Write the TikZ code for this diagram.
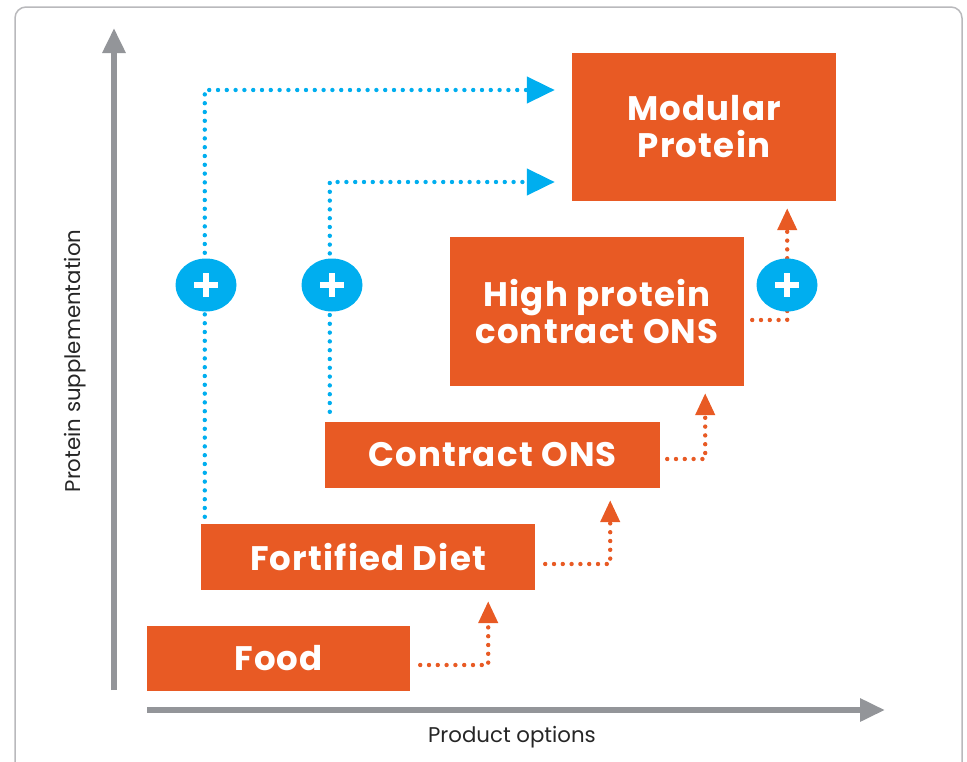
\documentclass[tikz,border=0pt]{standalone}
\usepackage{fontspec}
\setmainfont{Poppins}
\newfontfamily\boxfont[LetterSpace=3.5]{Poppins}
\usetikzlibrary{arrows.meta,shapes.geometric}
\definecolor{borange}{RGB}{232,90,36}
\definecolor{bblue}{RGB}{0,174,239}
\definecolor{axgray}{RGB}{147,149,153}
\definecolor{framegray}{RGB}{185,185,188}
\tikzset{
  box/.style={fill=borange, draw=none, text=white, inner sep=0pt, align=center,
    font=\boxfont\fontsize{34}{37}\selectfont\bfseries},
  odot/.style={draw=borange, line width=4.4pt, line cap=round, dash pattern=on 0pt off 8.8pt,
    -{Triangle[length=22pt,width=19pt,fill=borange]}},
  bdot/.style={draw=bblue, line width=4.4pt, line cap=round, dash pattern=on 0pt off 8.8pt,
    -{Triangle[length=28pt,width=26pt,fill=bblue]}},
  plusc/.style={ellipse, fill=bblue, minimum width=61pt, minimum height=53pt, inner sep=0pt,
    path picture={
      \fill[white] ([xshift=-12pt,yshift=-3.2pt]path picture bounding box.center) rectangle ([xshift=12pt,yshift=3.2pt]path picture bounding box.center);
      \fill[white] ([xshift=-3.2pt,yshift=-12pt]path picture bounding box.center) rectangle ([xshift=3.2pt,yshift=12pt]path picture bounding box.center);
    }},
  axis/.style={draw=axgray, line width=6pt, -{Triangle[length=25pt,width=22pt,fill=axgray]}},
  axlabel/.style={font=\fontsize{21.3}{25}\selectfont, text=black!85, inner sep=0pt}
}
\begin{document}
\begin{tikzpicture}[x=1pt,y=-1pt]
\useasboundingbox (0,0) rectangle (967,761);
\begin{scope}
\clip (0,0) rectangle (967,761);
\draw[framegray, line width=1.5pt, rounded corners=11pt] (15,7) rectangle (962,790);
\end{scope}
% axes
\coordinate (yb) at (114,690);
\coordinate (yt) at (114,28);
\coordinate (xl) at (147,710);
\coordinate (xr) at (885,710);
\draw[axis] (yb) -- (yt);
\draw[axis] (xl) -- (xr);
\node[axlabel, rotate=90] (ylab) at (75,361) {Protein supplementation};
\node[axlabel] (xlab) at (512,737) {Product options};
% boxes
\node[box, minimum width=263pt, minimum height=65pt] (food) at (278.5,658.5) {Food};
\node[box, minimum width=334pt, minimum height=66pt] (fort) at (368,557) {Fortified Diet};
\node[box, minimum width=335pt, minimum height=66pt] (cons) at (492.5,455) {Contract ONS};
\node[box, minimum width=294pt, minimum height=149pt] (high) at (597,311.5) {High protein\\contract ONS};
\node[box, minimum width=264pt, minimum height=148pt] (mod) at (704,127) {Modular\\Protein};
% orange connectors
\draw[odot] ([xshift=10pt,yshift=-6.5pt]food.east) -| ([xshift=-47pt,yshift=-11pt]fort.south east);
\draw[odot] ([xshift=10pt,yshift=-7pt]fort.east) -| ([xshift=-50pt,yshift=-12pt]cons.south east);
\draw[odot] ([xshift=7pt,yshift=-4pt]cons.east) -| ([xshift=-39pt,yshift=-7pt]high.south east);
\draw[odot] ([xshift=8pt,yshift=-8.5pt]high.east) -| ([xshift=-49pt,yshift=-7pt]mod.south east);
% blue connectors
\draw[bdot] ([xshift=4pt,yshift=7pt]fort.north west) |- ([xshift=-17pt,yshift=37pt]mod.west);
\draw[bdot] ([xshift=5pt,yshift=10pt]cons.north west) |- ([xshift=-17pt,yshift=-55pt]mod.west);
% plus circles
\node[plusc] (p1) at (206,285) {};
\node[plusc] (p2) at (332,285) {};
\node[plusc] (p3) at (787,285) {};
\end{tikzpicture}
\end{document}
